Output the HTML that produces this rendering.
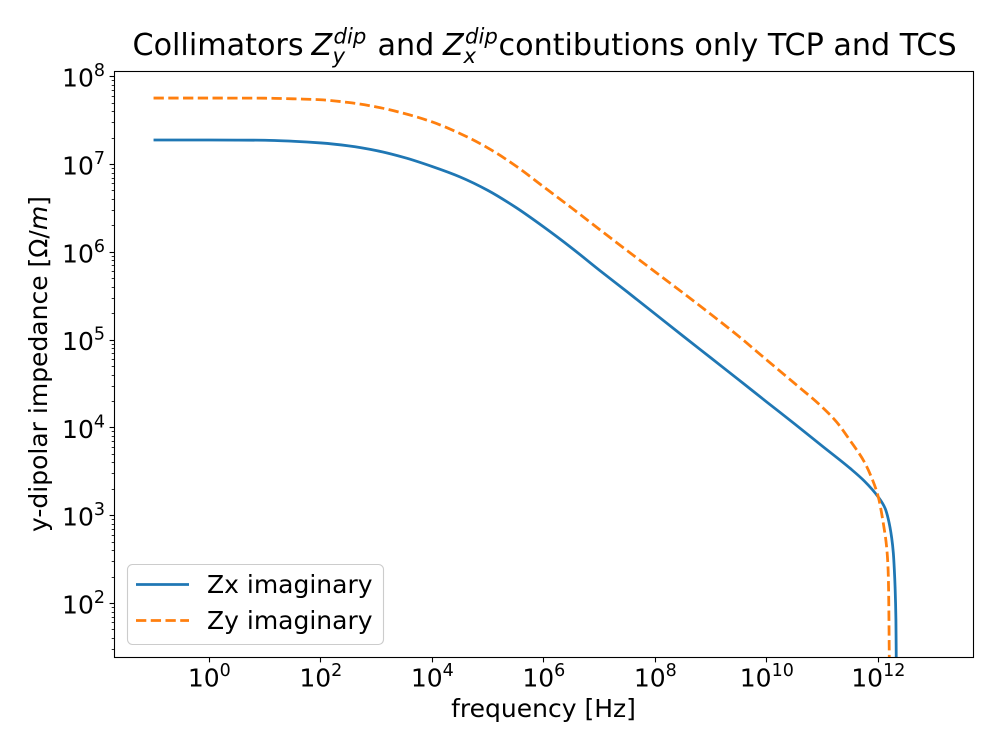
<!DOCTYPE html>
<html>
<head>
<meta charset="utf-8">
<title>Collimators impedance chart</title>
<style>
html,body{margin:0;padding:0;background:#fff;}
svg{display:block;}
text{font-family:"DejaVu Sans","Liberation Sans",sans-serif;fill:#000;}
</style>
</head>
<body>
<svg id="chart" width="1000" height="750" viewBox="0 0 1000 750" xmlns="http://www.w3.org/2000/svg">
  <defs><clipPath id="plot-clip"><rect x="114.5" y="71.5" width="859" height="586"/></clipPath></defs>
  <rect x="0" y="0" width="1000" height="750" fill="#fff"/>
  <g id="ticks"></g>
  <g id="series" clip-path="url(#plot-clip)"></g>
  <rect x="114.5" y="71.5" width="859" height="586" fill="none" stroke="#000" stroke-width="1.1"/>

  <g>
    <text x="132.5" y="55" font-size="30.2">Collimators</text>
    <text x="311.5" y="55" font-size="30.2" font-style="italic">Z</text>
    <text x="333.5" y="43.3" font-size="21.2" font-style="italic">dip</text>
    <text x="332.5" y="63" font-size="21.2" font-style="italic">y</text>
    <text x="377.5" y="55" font-size="30.2">and</text>
    <text x="443" y="55" font-size="30.2" font-style="italic">Z</text>
    <text x="465" y="43.3" font-size="21.2" font-style="italic">dip</text>
    <text x="463.5" y="63" font-size="21.2" font-style="italic">x</text>
    <text x="498.5" y="55" font-size="30.2">contibutions only TCP and TCS</text>
  </g>

  <text x="543.5" y="717" font-size="25" text-anchor="middle">frequency [Hz]</text>
  <text transform="translate(47 364) rotate(-90)" font-size="25" text-anchor="middle">y-dipolar impedance [Ω/<tspan font-style="italic">m</tspan>]</text>

  <g>
    <rect x="127.5" y="564.5" width="256" height="80" rx="5" ry="5" fill="#fff" fill-opacity="0.8" stroke="#ccc" stroke-width="1.1"/>
    <line x1="136" y1="584.5" x2="189" y2="584.5" stroke="#1f77b4" stroke-width="2.78"/>
    <text x="207" y="593" font-size="25">Zx imaginary</text>
    <line x1="136" y1="620.5" x2="189" y2="620.5" stroke="#ff7f0e" stroke-width="2.78" stroke-dasharray="10.3 4.44"/>
    <text x="207" y="629" font-size="25">Zy imaginary</text>
  </g>
</svg>
<script>
// Data
var zxFrequency = [1e-1, 1e0, 1e1, 3.16e1, 1e2, 3.16e2, 1e3, 3.16e3, 1e4, 3.16e4, 1e5, 3.16e5, 1e6, 3.16e6, 1e7, 3.16e7, 1e8, 3.16e8, 1e9, 3.16e9, 1e10, 3.16e10, 1e11, 3.16e11, 5.62e11, 1e12, 1.32e12, 1.51e12, 1.74e12, 1.86e12, 1.94e12, 2.00e12, 2.07e12, 2.10e12];
var zxImaginary = [1.90e7, 1.90e7, 1.89e7, 1.84e7, 1.76e7, 1.63e7, 1.44e7, 1.20e7, 9.48e6, 7.21e6, 5.06e6, 3.24e6, 1.94e6, 1.12e6, 6.24e5, 3.53e5, 1.98e5, 1.11e5, 6.25e4, 3.52e4, 1.97e4, 1.11e4, 6.17e3, 3.44e3, 2.48e3, 1.63e3, 1.22e3, 9.16e2, 5.57e2, 3.76e2, 2.41e2, 1.54e2, 64.9, 22.7];
var zyFrequency = [1e-1, 1e0, 1e1, 3.16e1, 1e2, 3.16e2, 1e3, 3.16e3, 1e4, 3.16e4, 1e5, 3.16e5, 1e6, 3.16e6, 1e7, 3.16e7, 1e8, 3.16e8, 1e9, 3.16e9, 1e10, 3.16e10, 1e11, 1.78e11, 3.16e11, 5.62e11, 7.5e11, 1e12, 1.26e12, 1.41e12, 1.50e12, 1.53e12, 1.57e12, 1.58e12];
var zyImaginary = [5.71e7, 5.71e7, 5.69e7, 5.60e7, 5.46e7, 5.08e7, 4.52e7, 3.81e7, 3.05e7, 2.25e7, 1.54e7, 9.61e6, 5.55e6, 3.20e6, 1.82e6, 1.04e6, 5.97e5, 3.44e5, 1.96e5, 1.10e5, 5.93e4, 3.21e4, 1.71e4, 1.17e4, 7.10e3, 4.09e3, 2.76e3, 1.63e3, 7.43e2, 4.40e2, 2.41e2, 1.43e2, 29.6, 17.4];
var xTickExponents = [0, 2, 4, 6, 8, 10, 12];
var yTickExponents = [2, 3, 4, 5, 6, 7, 8];
var yMinorExponents = [1, 2, 3, 4, 5, 6, 7];
var yMinorMultipliers = [2, 3, 4, 5, 6, 7, 8, 9];

// Axis functions (log scales)
function xAxis(v) { return 209.3 + 55.75 * Math.log10(v); }
function yAxis(v) { return 76.7 + 87.8 * (8 - Math.log10(v)); }

var NS = 'http://www.w3.org/2000/svg';
var ticksGroup = document.getElementById('ticks');
var seriesGroup = document.getElementById('series');

function snap(p) { return Math.round(p - 0.5) + 0.5; }

function drawTickLine(x1, y1, x2, y2, w) {
  var el = document.createElementNS(NS, 'line');
  
  
  el.setAttribute('x1', x1);
  el.setAttribute('y1', y1);
  el.setAttribute('x2', x2);
  el.setAttribute('y2', y2);
  el.setAttribute('stroke', '#000');
  el.setAttribute('stroke-width', w);
  ticksGroup.appendChild(el);
}

function drawTickLabel(x, y, anchor, exponent) {
  var el = document.createElementNS(NS, 'text');
  
  
  el.setAttribute('x', x);
  el.setAttribute('y', y);
  el.setAttribute('text-anchor', anchor);
  el.setAttribute('font-size', '25');
  el.appendChild(document.createTextNode('10'));
  var sup = document.createElementNS(NS, 'tspan');
  sup.setAttribute('font-size', '17.5');
  sup.setAttribute('dy', '-10.5');
  sup.textContent = String(exponent);
  el.appendChild(sup);
  ticksGroup.appendChild(el);
}

xTickExponents.forEach(function (e) {
  var px = xAxis(Math.pow(10, e));
  var sx = snap(px);
  drawTickLine(sx, 657.5, sx, 662.4, 1.1);
  drawTickLabel(px, 686.7, 'middle', e);
});

yTickExponents.forEach(function (e) {
  var py = yAxis(Math.pow(10, e));
  var sy = snap(py);
  drawTickLine(109.6, sy, 114.5, sy, 1.1);
  drawTickLabel(105, py + 10, 'end', e);
});

yMinorExponents.forEach(function (e) {
  yMinorMultipliers.forEach(function (m) {
    var py = yAxis(m * Math.pow(10, e));
    if (py > 71.5 && py < 657.5) {
      var sy = snap(py);
      drawTickLine(111.7, sy, 114.5, sy, 0.83);
    }
  });
});

// Monotone cubic path through the data points
function buildPath(freqs, vals) {
  var xs = freqs.map(xAxis);
  var ys = vals.map(yAxis);
  var n = xs.length;
  var slopes = [];
  var i;
  for (i = 0; i < n - 1; i++) {
    slopes.push((ys[i + 1] - ys[i]) / (xs[i + 1] - xs[i]));
  }
  var tangents = [slopes[0]];
  for (i = 1; i < n - 1; i++) {
    if (slopes[i - 1] * slopes[i] <= 0) {
      tangents.push(0);
    } else {
      var h0 = xs[i] - xs[i - 1];
      var h1 = xs[i + 1] - xs[i];
      var w1 = 2 * h1 + h0;
      var w2 = h1 + 2 * h0;
      tangents.push((w1 + w2) / (w1 / slopes[i - 1] + w2 / slopes[i]));
    }
  }
  tangents.push(slopes[n - 2]);
  var d = 'M' + xs[0].toFixed(2) + ' ' + ys[0].toFixed(2);
  for (i = 0; i < n - 1; i++) {
    var h = (xs[i + 1] - xs[i]) / 3;
    d += 'C' + (xs[i] + h).toFixed(2) + ' ' + (ys[i] + tangents[i] * h).toFixed(2) + ' ' +
      (xs[i + 1] - h).toFixed(2) + ' ' + (ys[i + 1] - tangents[i + 1] * h).toFixed(2) + ' ' +
      xs[i + 1].toFixed(2) + ' ' + ys[i + 1].toFixed(2);
  }
  return d;
}

var zxLine = document.createElementNS(NS, 'path');


zxLine.setAttribute('d', buildPath(zxFrequency, zxImaginary));
zxLine.setAttribute('fill', 'none');
zxLine.setAttribute('stroke', '#1f77b4');
zxLine.setAttribute('stroke-width', '2.78');
seriesGroup.appendChild(zxLine);

var zyLine = document.createElementNS(NS, 'path');


zyLine.setAttribute('d', buildPath(zyFrequency, zyImaginary));
zyLine.setAttribute('fill', 'none');
zyLine.setAttribute('stroke', '#ff7f0e');
zyLine.setAttribute('stroke-width', '2.78');
zyLine.setAttribute('stroke-dasharray', '10.3 4.44');
seriesGroup.appendChild(zyLine);
</script>
</body>
</html>
